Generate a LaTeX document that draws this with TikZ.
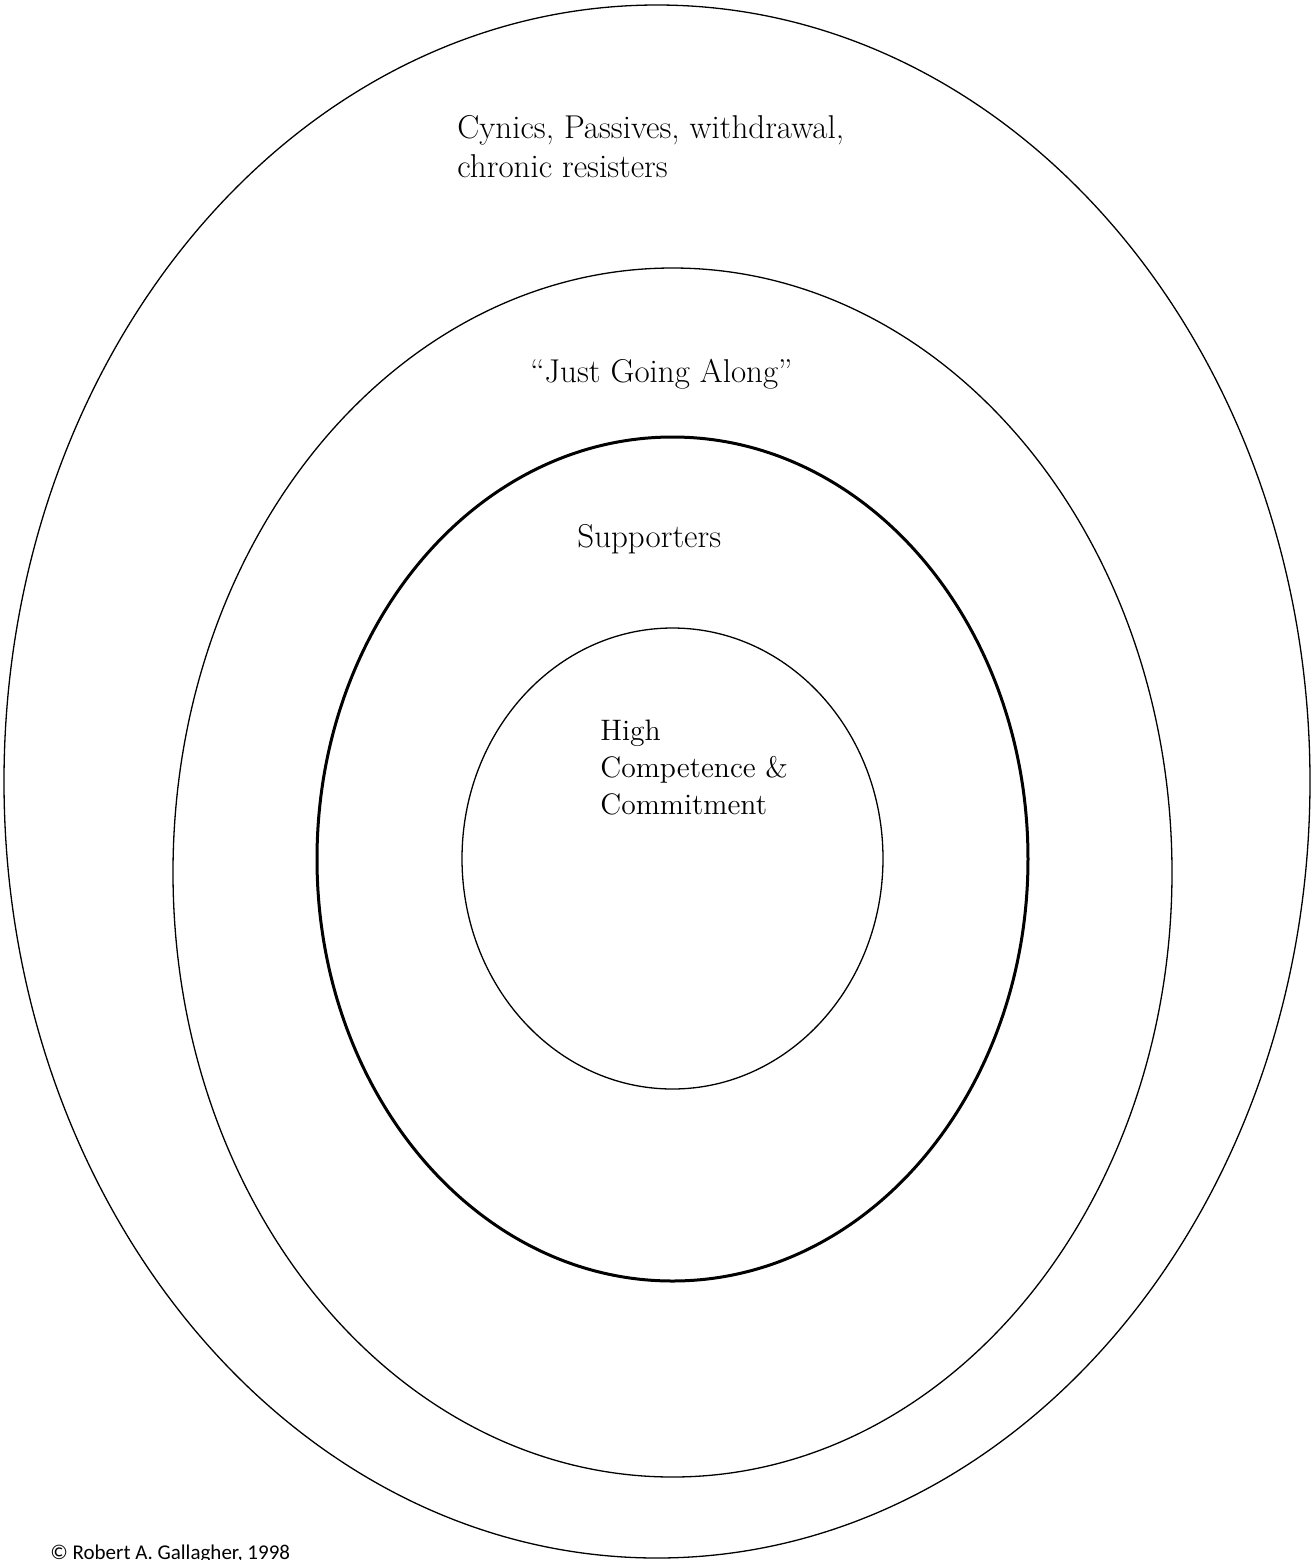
\documentclass[tikz,border=0pt]{standalone}
\usepackage{fontspec}
\newfontfamily\notesans{Carlito}
\tikzset{
    ring/.style={draw, line width=0.65pt},
    boldring/.style={draw, line width=1.5pt},
    zonetext/.style={anchor=base west, inner sep=0pt, font=\fontsize{16.5}{19.5}\selectfont},
    coretext/.style={anchor=base west, inner sep=0pt, font=\fontsize{14.8}{18.5}\selectfont},
    notetext/.style={anchor=base west, inner sep=0pt, font=\notesans\fontsize{10.5}{12}\selectfont}
}
\begin{document}
\begin{tikzpicture}[x=0.5pt,y=-0.5pt]
                \useasboundingbox (0,0) rectangle (1312,1560);

                \draw[ring] (657,781.5) ellipse [x radius=653, y radius=776.5];
                \draw[ring] (672.5,872.5) ellipse [x radius=499.5, y radius=604.5];
                \draw[boldring] (672.5,859) ellipse [x radius=355.5, y radius=422];
                \draw[ring] (672.5,858.5) ellipse [x radius=210.5, y radius=230.5];

                \node[zonetext] (cynics) at (457,138) {Cynics, Passives, withdrawal,};
                \node[zonetext] (chronic) at (457,177) {chronic resisters};
                \node[zonetext] (along) at (530,382) {“Just Going Along”};
                \node[zonetext] (supporters) at (577,547) {Supporters};

                \node[coretext] (high) at (600,740) {High};
                \node[coretext] (competence) at (600,777) {Competence \&};
                \node[coretext] (commitment) at (600,814) {Commitment};

                \node[notetext] (copyright) at (50,1559) {© Robert A. Gallagher, 1998};
            \end{tikzpicture}
\end{document}
